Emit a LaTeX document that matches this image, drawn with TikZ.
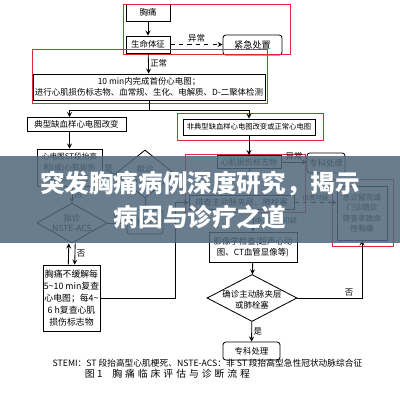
\documentclass[tikz,border=0pt]{standalone}
\usepackage{fontspec}
\newfontfamily\cjk{Noto Sans CJK SC}
\usetikzlibrary{calc,arrows,shapes.geometric}
\definecolor{boxred}{RGB}{226,42,54}
\definecolor{bannerblue}{RGB}{80,104,124}

\begin{document}
\begin{tikzpicture}[x=0.25mm, y=-0.25mm, >=stealth,
    every node/.style={font=\cjk\fontsize{6}{7.5}\selectfont},
    box/.style={draw, line width=0.6pt, inner sep=0pt, align=center},
    rbox/.style={box, rounded corners=2pt},
    dia/.style={draw, line width=0.6pt, diamond, inner sep=0pt},
    redbox/.style={draw=boxred, line width=0.7pt},
    arr/.style={->, line width=0.6pt},
    tag/.style={inner sep=1pt}]
    \useasboundingbox (0,0) rectangle (400,400);
    \node[box, minimum width=11mm, minimum height=4.25mm] (xiongtong) at (148,12.5) {胸痛};
    \node[box, minimum width=11mm, minimum height=4.25mm] (shengming) at (148,44.5) {生命体征};
    \node[rbox, minimum width=14.75mm, minimum height=5mm, font=\cjk\fontsize{6.5}{7.5}\selectfont] (jinji) at (252.5,45) {紧急处置};
    \node[box, minimum width=58mm, minimum height=6.5mm] (xindiantu) at (149,87)
        {10 min内完成首份心电图；\\进行心肌损伤标志物、血常规、生化、电解质、D-二聚体检测};
    \node[box, minimum width=24.75mm, minimum height=3.5mm] (dianxing) at (76.5,124.5) {典型缺血样心电图改变};
    \node[box, minimum width=33mm, minimum height=4mm, font=\cjk\fontsize{5.2}{6.5}\selectfont] (feidianxing) at (249,127)
        {非典型缺血样心电图改变或正常心电图};
    \node[box, minimum width=16.25mm, minimum height=9.25mm, font=\cjk\fontsize{5.5}{7.8}\selectfont] (stbox) at (69.5,167.5)
        {心电图ST段抬高\\和(或)心肌损伤\\标志物升高};
    \node[dia, minimum width=15mm, minimum height=12mm,
        label={[align=center]center:拟诊\\STEMI}] (stemi) at (145,174) {};
    \node[dia, minimum width=17.5mm, minimum height=10mm,
        label={[align=center]center:拟诊\\NSTE-ACS}] (nste) at (72,223) {};
    \node[rbox, minimum width=9mm, minimum height=6mm] (zhuanke1) at (145,222) {专科处理};
    \node[box, minimum width=14.25mm, minimum height=16.5mm, font=\cjk\fontsize{6.3}{8.5}\selectfont] (buhuanjie) at (71.5,298)
        {胸痛不缓解每\\5\textasciitilde10 min复查\\心电图；每4\textasciitilde\\6 h复查心肌\\损伤标志物};
    \node[box, minimum width=16mm, minimum height=3.25mm, font=\cjk\fontsize{5.7}{7}\selectfont] (xinji) at (249,162) {心肌损伤标志物};
    \node[rbox, minimum width=9.5mm, minimum height=5mm] (zhuanke2) at (326,163) {专科处理};
    \node[box, minimum width=26.25mm, minimum height=3.5mm, font=\cjk\fontsize{6}{7}\selectfont] (paicha) at (241.5,202.5)
        {排查主动脉夹层、肺栓塞};
    \node[box, minimum width=12.5mm, minimum height=13.5mm, font=\cjk\fontsize{5.5}{7.3}\selectfont] (jizhen) at (362,213)
        {急诊留观或\\门诊随诊\\筛查非致命\\性胸痛};
    \node[box, minimum width=22mm, minimum height=7.5mm] (yingxiang) at (253,247)
        {影像学检查(超声心动\\图、CT血管显像等)};
    \node[dia, minimum width=22.5mm, minimum height=11.75mm,
        label={[align=center, yshift=-0.5mm]center:确诊主动脉夹层\\或肺栓塞}] (queding) at (252,298) {};
    \node[rbox, minimum width=14.25mm, minimum height=4.5mm] (zhuanke3) at (251.5,351) {专科处理};
    \draw[redbox] (123,4) rectangle (290,54);
    \draw[redbox] (32,49) rectangle (267,103);
    \draw[redbox] (177,113) rectangle (323,140);
    \draw[redbox] (185,154) rectangle (305,212);
    \draw[redbox] (332,179) rectangle (393,246);
    \coordinate (fork) at (149,110);
    \coordinate (turn) at (175,298);
    \draw[arr] (xiongtong) -- (shengming);
    \draw[arr, dashed] (shengming.east) -- node[above, tag] {异常} (shengming.east -| jinji.west);
    \draw[arr] (shengming) -- node[right, tag] {正常} (xindiantu);
    \draw (xindiantu.south) -- (fork);
    \draw[arr] (fork) -| (dianxing.north -| stbox.north);
    \draw[arr] (fork) -| (feidianxing.north);
    \draw[arr] (dianxing.south -| stbox.north) -- (stbox.north);
    \draw[arr] (stbox.east |- stemi.west) -- node[above, tag] {是} (stemi.west);
    \draw[arr] (stemi.south) -- (zhuanke1.north);
    \draw[arr] (stbox.south -| nste.north) -- node[right, tag] {否} (nste.north);
    \draw[arr] (nste.east) -- node[above, tag] {是} (nste.east -| zhuanke1.west);
    \draw[arr] ([xshift=-0.8mm]buhuanjie.north) -- ([xshift=-0.8mm]nste.south);
    \draw[arr] ([xshift=0.8mm]nste.south) -- node[right, tag] {否} ([xshift=0.8mm]buhuanjie.north);
    \draw[arr] (buhuanjie.east) -- (turn) |- (paicha.west);
    \draw[arr] (feidianxing.south -| xinji.north) -- (xinji.north);
    \draw[arr] (xinji.east) -- node[above, tag] {异常} (xinji.east -| zhuanke2.west);
    \draw[arr] (xinji.south) -- (xinji.south |- paicha.north);
    \draw[arr, dashed] (paicha.east) -- node[above, tag, font=\cjk\fontsize{4.6}{5}\selectfont] {低度可疑} (paicha.east -| jizhen.west);
    \draw[arr] (paicha.south -| yingxiang.north) -- node[right, tag, font=\cjk\fontsize{5}{6}\selectfont] {中、高度可疑} (yingxiang.north);
    \draw[arr] (yingxiang) -- (queding);
    \draw[arr] (queding) -- node[right, tag] {是} (zhuanke3);
    \draw[arr] (queding.east) -| node[pos=0.4, above, tag] {否} (jizhen.south);
    \node[font=\cjk\fontsize{6.2}{7}\selectfont] (note) at (207.5,363)
        {STEMI：ST 段抬高型心肌梗死、NSTE-ACS：非 ST 段抬高型急性冠状动脉综合征};
    \node[anchor=west, font=\cjk\fontsize{7}{8}\selectfont] (caption) at (80,374)
        {图 1\quad{\addfontfeature{LetterSpace=30}胸痛临床评估与诊断流程}};
    \fill[bannerblue, opacity=0.86] (0,156) rectangle (400,243);
    \node[text=white, font=\cjk\bfseries\fontsize{17.5}{21}\selectfont] (title1) at (200,184) {突发胸痛病例深度研究，揭示};
    \node[text=white, font=\cjk\bfseries\fontsize{17.5}{21}\selectfont] (title2) at (200,217) {病因与诊疗之道};
\end{tikzpicture}
\end{document}
